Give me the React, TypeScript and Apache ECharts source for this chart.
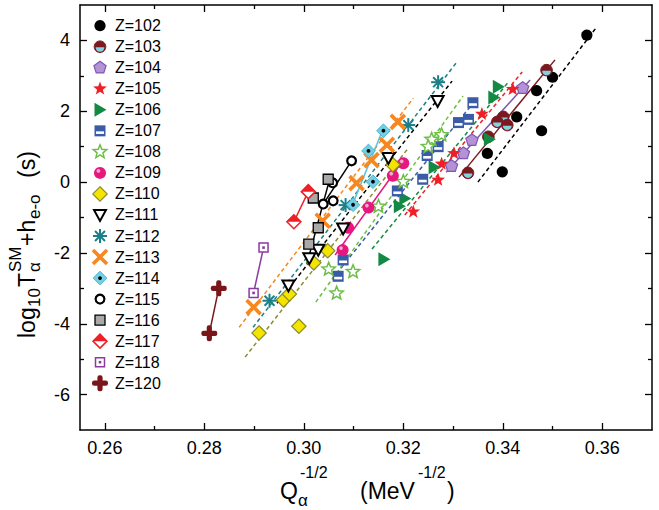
import React, { useEffect, useRef } from "react";
import * as echarts from "echarts";

const FONT = '"Liberation Sans", Arial, Helvetica, sans-serif';

// Axis ranges and tick positions
const X_MIN = 0.255;
const X_MAX = 0.37;
const Y_MIN = -7;
const Y_MAX = 5;
const xMajor = [0.26, 0.28, 0.3, 0.32, 0.34, 0.36];
const xMinor = [0.27, 0.29, 0.31, 0.33, 0.35];
const yMajor = [-6, -4, -2, 0, 2, 4];
const yMinor = [-5, -3, -1, 1, 3];

// Points: [Q^-1/2 (MeV^-1/2), log10 T (s)]
const z102 = [[0.3569, 4.15], [0.35, 2.96], [0.3468, 2.58], [0.3428, 1.84], [0.3478, 1.45], [0.3369, 0.81], [0.3399, 0.29]];
const z103 = [[0.3488, 3.16], [0.3401, 1.84], [0.3389, 1.7], [0.3409, 1.61], [0.3371, 1.28], [0.333, 0.26]];
const z104 = [[0.344, 2.65], [0.3338, 1.18], [0.3321, 0.81], [0.3297, 0.45]];
const z105 = [[0.342, 2.62], [0.3358, 1.92], [0.3302, 0.81], [0.3277, 0.51], [0.327, 0.06], [0.322, -0.84]];
const z106 = [[0.3391, 2.69], [0.3382, 2.39], [0.3373, 1.21], [0.3262, 0.42], [0.3203, -0.46], [0.3192, -0.68], [0.3161, -2.18]];
const z107 = [[0.334, 2.24], [0.3331, 1.77], [0.3311, 1.68], [0.327, 1.0], [0.3248, 0.75], [0.3239, 0.08], [0.3188, -0.25], [0.3079, -2.2], [0.3069, -2.66]];
const z108 = [[0.3277, 1.33], [0.3257, 1.2], [0.325, 1.0], [0.32, 0.01], [0.315, -0.69], [0.305, -2.46], [0.3099, -2.53], [0.3066, -3.14]];
const z109 = [[0.32, 0.53], [0.3179, 0.18], [0.313, -0.72], [0.3089, -1.29], [0.3078, -1.92]];
const z110 = [[0.291, -4.26], [0.299, -4.07], [0.2959, -3.33], [0.2971, -3.16], [0.302, -2.28], [0.3048, -1.94], [0.3179, 0.49]];
const z111 = [[0.2969, -2.92], [0.3011, -2.15], [0.3029, -1.91], [0.3079, -1.31], [0.317, 0.68], [0.3269, 2.29]];
const z112 = [[0.2931, -3.35], [0.3084, -0.65], [0.321, 1.61], [0.327, 2.82]];
const z113 = [[0.2899, -3.53], [0.3038, -1.09], [0.3106, -0.03], [0.3136, 0.62], [0.3167, 1.05], [0.3189, 1.7]];
const z114 = [[0.316, 1.45], [0.313, 0.88], [0.3139, 0.01], [0.3099, -0.64]];
const z115 = [[0.3039, -0.62], [0.3059, -0.53], [0.3058, -0.02], [0.3096, 0.6]];
const z116 = [[0.3049, 0.08], [0.3019, -0.45], [0.3029, -1.29], [0.301, -1.75]];
const z117 = [[0.3009, -0.27], [0.298, -1.12]];
const z118 = [[0.2919, -1.85], [0.2899, -3.13]];
const z120 = [[0.2829, -3.0], [0.281, -4.27]];

// Straight-line trends drawn under each element's points
const fit102 = [[0.335, 0.0], [0.3589, 4.38]];
const fit103 = [[0.3312, 0.14], [0.3505, 3.45]];
const fit104 = [[0.3286, 0.28], [0.3455, 2.88]];
const fit105 = [[0.3203, -0.93], [0.3439, 3.11]];
const fit106 = [[0.3137, -1.89], [0.3411, 2.82]];
const fit107 = [[0.3057, -2.74], [0.3348, 2.37]];
const fit108 = [[0.3024, -3.39], [0.332, 2.43]];
const fit109 = [[0.3063, -2.06], [0.3203, 0.68]];
const fit110 = [[0.2882, -4.94], [0.321, 0.96]];
const fit111 = [[0.2946, -3.42], [0.3298, 2.85]];
const fit112 = [[0.2898, -4.1], [0.3306, 3.36]];
const fit113 = [[0.287, -4.1], [0.322, 2.37]];
const fit114 = [[0.3096, -0.7], [0.3157, 1.42]];
const fit115 = [[0.3039, -0.62], [0.3097, 0.62]];
const fit116 = [[0.3006, -2.32], [0.3053, 0.14]];

const names = ["Z=102", "Z=103", "Z=104", "Z=105", "Z=106", "Z=107", "Z=108", "Z=109", "Z=110", "Z=111", "Z=112", "Z=113", "Z=114", "Z=115", "Z=116", "Z=117", "Z=118", "Z=120"];

type Pt = number[];
interface Spec {
  name: string;
  kind: string;
  data: Pt[];
  fit: Pt[];
  color: string;
  dashed: boolean;
}

const SPECS: Spec[] = [
  { name: names[0], kind: "z102", data: z102, fit: fit102, color: "#000000", dashed: true },
  { name: names[1], kind: "z103", data: z103, fit: fit103, color: "#7b1a1e", dashed: false },
  { name: names[2], kind: "z104", data: z104, fit: fit104, color: "#7c58b5", dashed: false },
  { name: names[3], kind: "z105", data: z105, fit: fit105, color: "#ee1f26", dashed: true },
  { name: names[4], kind: "z106", data: z106, fit: fit106, color: "#138a43", dashed: true },
  { name: names[5], kind: "z107", data: z107, fit: fit107, color: "#3a5ba8", dashed: true },
  { name: names[6], kind: "z108", data: z108, fit: fit108, color: "#6cbf45", dashed: true },
  { name: names[7], kind: "z109", data: z109, fit: fit109, color: "#e6177f", dashed: false },
  { name: names[8], kind: "z110", data: z110, fit: fit110, color: "#8c8c2c", dashed: true },
  { name: names[9], kind: "z111", data: z111, fit: fit111, color: "#000000", dashed: true },
  { name: names[10], kind: "z112", data: z112, fit: fit112, color: "#1c7f88", dashed: true },
  { name: names[11], kind: "z113", data: z113, fit: fit113, color: "#f7871f", dashed: true },
  { name: names[12], kind: "z114", data: z114, fit: fit114, color: "#5bc3db", dashed: false },
  { name: names[13], kind: "z115", data: z115, fit: fit115, color: "#000000", dashed: false },
  { name: names[14], kind: "z116", data: z116, fit: fit116, color: "#000000", dashed: false },
  { name: names[15], kind: "z117", data: z117, fit: z117, color: "#ee1f26", dashed: false },
  { name: names[16], kind: "z118", data: z118, fit: z118, color: "#8b3a9e", dashed: false },
  { name: names[17], kind: "z120", data: z120, fit: z120, color: "#7a1519", dashed: false },
];

function starPts(cx: number, cy: number, R: number, r: number) {
  const pts: number[][] = [];
  for (let k = 0; k < 10; k++) {
    const a = -Math.PI / 2 + (k * Math.PI) / 5;
    const rad = k % 2 ? r : R;
    pts.push([cx + rad * Math.cos(a), cy + rad * Math.sin(a)]);
  }
  return pts;
}

function polyPts(cx: number, cy: number, R: number, n: number) {
  const pts: number[][] = [];
  for (let k = 0; k < n; k++) {
    const a = -Math.PI / 2 + (k * 2 * Math.PI) / n;
    pts.push([cx + R * Math.cos(a), cy + R * Math.sin(a)]);
  }
  return pts;
}

function diamond(cx: number, cy: number, h: number) {
  return [[cx, cy - h], [cx + h, cy], [cx, cy + h], [cx - h, cy]];
}

// Marker glyphs built from plain shapes so they work both in custom series and in graphic
function marker(kind: string, cx: number, cy: number): any[] {
  switch (kind) {
    case "z102":
      return [{ type: "circle", shape: { cx, cy, r: 5.6 }, style: { fill: "#000" } }];
    case "z103":
      return [
        { type: "circle", shape: { cx, cy, r: 5.8 }, style: { fill: "#7b1a1e", stroke: "#7b1a1e", lineWidth: 1 } },
        { type: "sector", shape: { cx, cy: cy + 0.6, r: 4.4, r0: 0, startAngle: 0, endAngle: Math.PI, clockwise: true }, style: { fill: "#86d0e3" } },
      ];
    case "z104":
      return [{ type: "polygon", shape: { points: polyPts(cx, cy, 6.4, 5) }, style: { fill: "#b592d6", stroke: "#7c58b5", lineWidth: 1.2 } }];
    case "z105":
      return [{ type: "polygon", shape: { points: starPts(cx, cy, 7.2, 3) }, style: { fill: "#ee1f26" } }];
    case "z106":
      return [{ type: "polygon", shape: { points: [[cx - 5.5, cy - 7], [cx + 6.5, cy], [cx - 5.5, cy + 7]] }, style: { fill: "#138a43" } }];
    case "z107":
      return [
        { type: "rect", shape: { x: cx - 5.5, y: cy - 5.5, width: 11, height: 11 }, style: { fill: "#3a5ba8" } },
        { type: "rect", shape: { x: cx - 4, y: cy + 0.5, width: 8, height: 2.6 }, style: { fill: "#ffffff" } },
      ];
    case "z108":
      return [{ type: "polygon", shape: { points: starPts(cx, cy, 7, 3.1) }, style: { fill: "#ffffff", stroke: "#6cbf45", lineWidth: 1.5 } }];
    case "z109":
      return [
        { type: "circle", shape: { cx, cy, r: 6 }, style: { fill: "#e6177f" } },
        { type: "circle", shape: { cx: cx - 1.6, cy: cy - 2, r: 1.9 }, style: { fill: "#f6a9cf" } },
      ];
    case "z110":
      return [{ type: "polygon", shape: { points: diamond(cx, cy, 7.2) }, style: { fill: "#f4e400", stroke: "#8c8c2c", lineWidth: 1.2 } }];
    case "z111":
      return [{ type: "polygon", shape: { points: [[cx - 6, cy - 5], [cx + 6, cy - 5], [cx, cy + 6]] }, style: { fill: "#ffffff", stroke: "#000", lineWidth: 2 } }];
    case "z112": {
      const els: any[] = [];
      for (let k = 0; k < 4; k++) {
        const a = (k * Math.PI) / 4;
        const dx = 7 * Math.cos(a);
        const dy = 7 * Math.sin(a);
        els.push({ type: "line", shape: { x1: cx - dx, y1: cy - dy, x2: cx + dx, y2: cy + dy }, style: { stroke: "#1c7f88", lineWidth: 2 } });
      }
      return els;
    }
    case "z113":
      return [
        { type: "line", shape: { x1: cx - 7, y1: cy - 7, x2: cx + 7, y2: cy + 7 }, style: { stroke: "#f7871f", lineWidth: 3.6 } },
        { type: "line", shape: { x1: cx - 7, y1: cy + 7, x2: cx + 7, y2: cy - 7 }, style: { stroke: "#f7871f", lineWidth: 3.6 } },
      ];
    case "z114":
      return [
        { type: "polygon", shape: { points: diamond(cx, cy, 6.8) }, style: { fill: "#74cfe4", stroke: "#4ab6d0", lineWidth: 1 } },
        { type: "circle", shape: { cx, cy, r: 1.9 }, style: { fill: "#000" } },
      ];
    case "z115":
      return [{ type: "circle", shape: { cx, cy, r: 4.4 }, style: { fill: "#ffffff", stroke: "#000", lineWidth: 2.2 } }];
    case "z116":
      return [{ type: "rect", shape: { x: cx - 5, y: cy - 5, width: 10, height: 10 }, style: { fill: "#a9a9a9", stroke: "#000", lineWidth: 1.3 } }];
    case "z117":
      return [
        { type: "polygon", shape: { points: diamond(cx, cy, 7) }, style: { fill: "#ffffff", stroke: "#ee1f26", lineWidth: 1.5 } },
        { type: "polygon", shape: { points: [[cx - 7, cy], [cx, cy - 7], [cx + 7, cy]] }, style: { fill: "#ee1f26" } },
      ];
    case "z118":
      return [
        { type: "rect", shape: { x: cx - 4.5, y: cy - 4.5, width: 9, height: 9 }, style: { fill: "#ffffff", stroke: "#8b3a9e", lineWidth: 1.5 } },
        { type: "rect", shape: { x: cx - 1.3, y: cy - 1.3, width: 2.6, height: 2.6 }, style: { fill: "#8b3a9e" } },
      ];
    case "z120":
      return [
        { type: "rect", shape: { x: cx - 8, y: cy - 2.6, width: 16, height: 5.2, r: 2.2 }, style: { fill: "#7a1519" } },
        { type: "rect", shape: { x: cx - 2.6, y: cy - 8, width: 5.2, height: 16, r: 2.2 }, style: { fill: "#7a1519" } },
      ];
    default:
      return [];
  }
}

function xAxisDef(position: string, ticks: number[], len: number, showLine: boolean, showLabel: boolean) {
  return {
    type: "value",
    min: X_MIN,
    max: X_MAX,
    position,
    gridIndex: 0,
    axisLine: { show: showLine, onZero: false, lineStyle: { color: "#000", width: 1.5 } },
    axisTick: { show: true, inside: true, length: len, customValues: ticks, lineStyle: { color: "#000", width: 1.3 } },
    axisLabel: {
      show: showLabel,
      customValues: ticks,
      formatter: (v: number) => v.toFixed(2),
      color: "#000",
      fontSize: 18,
      fontFamily: FONT,
      margin: 9,
    },
    splitLine: { show: false },
  };
}

function yAxisDef(position: string, ticks: number[], len: number, showLine: boolean, showLabel: boolean) {
  return {
    type: "value",
    min: Y_MIN,
    max: Y_MAX,
    position,
    gridIndex: 0,
    axisLine: { show: showLine, onZero: false, lineStyle: { color: "#000", width: 1.5 } },
    axisTick: { show: true, inside: true, length: len, customValues: ticks, lineStyle: { color: "#000", width: 1.3 } },
    axisLabel: {
      show: showLabel,
      customValues: ticks,
      formatter: (v: number) => String(v),
      color: "#000",
      fontSize: 18,
      fontFamily: FONT,
      margin: 10,
    },
    splitLine: { show: false },
  };
}

function buildOption() {
  const lineSeries = SPECS.map((s) => ({
    type: "line",
    name: s.name + " trend",
    data: s.fit,
    showSymbol: false,
    symbol: "none",
    silent: true,
    z: 2,
    lineStyle: { color: s.color, width: 1.5, type: s.dashed ? [4, 3] : "solid" },
  }));

  const pointSeries = SPECS.map((s, i) => ({
    type: "custom",
    name: s.name,
    data: s.data,
    silent: true,
    z: 3 + i * 0.01,
    encode: { x: 0, y: 1 },
    renderItem: (_params: any, api: any) => {
      const p = api.coord([api.value(0), api.value(1)]);
      return { type: "group", children: marker(s.kind, p[0], p[1]) };
    },
  }));

  // Legend column in the upper-left corner of the plot
  const legend = SPECS.map((s, i) => {
    const cy = 25.7 + i * 21.03;
    return {
      type: "group",
      children: [
        ...marker(s.kind, 100, cy),
        {
          type: "text",
          style: { text: s.name, x: 115, y: cy, fill: "#000", font: `16px ${FONT}`, verticalAlign: "middle", align: "left" },
        },
      ],
    };
  });

  const tx = (text: string, x: number, y: number, size: number) => ({
    type: "text",
    style: { text, x, y, fill: "#000", font: `${size}px ${FONT}`, verticalAlign: "middle", align: "left" },
  });

  // x-axis title: Q_alpha^-1/2 (MeV^-1/2)
  const xTitle = {
    type: "group",
    children: [
      tx("Q", 280, 491, 23),
      tx("\u03b1", 298, 500, 17),
      tx("-1/2", 300, 472, 16),
      tx("(MeV", 360, 491, 23),
      tx("-1/2", 418, 472, 16),
      tx(")", 447, 491, 23),
    ],
  };

  // y-axis title, laid out horizontally then turned to read upwards
  const yTitle = {
    type: "group",
    x: 27,
    y: 338,
    rotation: Math.PI / 2,
    children: [
      tx("log", 0, 0, 23),
      tx("10", 31, 7, 17),
      tx("T", 51, 0, 23),
      tx("\u03b1", 66, 7, 17),
      tx("SM", 66, -12, 17),
      tx("+h", 92, 0, 23),
      tx("e-o", 119, 7, 17),
      tx("(s)", 160, 0, 23),
    ],
  };

  return {
    animation: false,
    backgroundColor: "#ffffff",
    grid: { left: 80, top: 5, width: 572, height: 425, containLabel: false },
    xAxis: [
      xAxisDef("bottom", xMajor, 7, true, true),
      xAxisDef("bottom", xMinor, 4, false, false),
      xAxisDef("top", xMajor, 7, true, false),
      xAxisDef("top", xMinor, 4, false, false),
    ],
    yAxis: [
      yAxisDef("left", yMajor, 7, true, true),
      yAxisDef("left", yMinor, 4, false, false),
      yAxisDef("right", yMajor, 7, true, false),
      yAxisDef("right", yMinor, 4, false, false),
    ],
    series: [...lineSeries, ...pointSeries],
    graphic: [...legend, xTitle, yTitle],
  };
}

export default function App() {
  const ref = useRef<HTMLDivElement>(null);
  useEffect(() => {
    if (!ref.current) return;
    const chart = echarts.init(ref.current, null, { renderer: "svg" });
    chart.setOption(buildOption() as any);
    return () => chart.dispose();
  }, []);
  return (
    <div
      ref={ref}
      style={{ position: "fixed", left: 0, top: 0, width: 659, height: 510, background: "#fff" }}
    />
  );
}
